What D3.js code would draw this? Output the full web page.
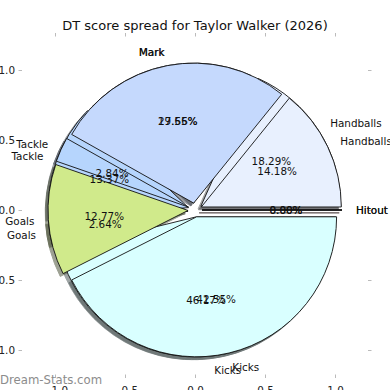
<!DOCTYPE html>
<html>
<head>
<meta charset="utf-8">
<script src="https://cdn.jsdelivr.net/npm/d3@7"></script>
<style>
body { margin: 0; background: #fff; }
svg { display: block; font-family: "DejaVu Sans", sans-serif; }
</style>
</head>
<body>
<div id="chart"></div>
<script>
// two seasons of the same split drawn on top of each other
const categories = ["Hitout", "Handballs", "Mark", "Tackle", "Goals", "Kicks"];
const colours = ["#ffd9d9", "#e8f0fe", "#c5d9fd", "#b6d5fd", "#d0ea8b", "#d9ffff"];
const spreadBack = [0, 18.29, 19.55, 13.37, 2.64, 46.17];
const spreadFront = [0, 14.18, 27.66, 2.84, 12.77, 42.55];
const axisTicks = [-1, -0.5, 0, 0.5, 1];

const width = 390, height = 390;
const explode = 0.05;

const svg = d3.select("#chart").append("svg")
    .attr("width", width)
    .attr("height", height);

var x = d3.scaleLinear().domain([-1, 1]).range([55, 335]);
var y = d3.scaleLinear().domain([-1, 1]).range([350, 70]);
const R = x(1) - x(0);
const cx = x(0), cy = y(0);

// axes frame (spines hidden, ticks on all four sides)
const frame = {left: 22, right: 368, top: 36.5, bottom: 374.5};
function styleAxis(g) {
    g.select(".domain").remove();
    g.selectAll("line").attr("stroke", "#bbb");
    g.selectAll("text").attr("fill", "#222").style("font-size", "10.4px").style("font-family", "DejaVu Sans");
}
svg.append("g").attr("transform", "translate(" + frame.left + ",0)")
    .call(d3.axisLeft(y).tickValues(axisTicks).tickSize(3.5).tickPadding(3.5).tickFormat(d3.format(".1f")))
    .call(styleAxis);
svg.append("g").attr("transform", "translate(0," + frame.bottom + ")")
    .call(d3.axisBottom(x).tickValues(axisTicks).tickSize(3.5).tickPadding(9).tickFormat(d3.format(".1f")))
    .call(styleAxis);
svg.append("g").attr("transform", "translate(" + frame.right + ",0)")
    .call(d3.axisRight(y).tickValues(axisTicks).tickSize(3.5).tickFormat(""))
    .call(styleAxis);
svg.append("g").attr("transform", "translate(0," + frame.top + ")")
    .call(d3.axisTop(x).tickValues(axisTicks).tickSize(3.5).tickFormat(""))
    .call(styleAxis);

// pie goes counter-clockwise from 3 o'clock
const pie = d3.pie().sort(null).value(d => d)
    .startAngle(Math.PI / 2).endAngle(Math.PI / 2 - 2 * Math.PI);
const arc = d3.arc().innerRadius(0).outerRadius(R);

function slices(values) {
    return pie(values).map((a, i) => {
        const mid = (a.startAngle + a.endAngle) / 2;
        return {
            arc: a, i: i, mid: mid,
            dx: explode * R * Math.sin(mid),
            dy: -explode * R * Math.cos(mid)
        };
    });
}
const back = slices(spreadBack);
const front = slices(spreadFront);

const shadowLayer = svg.append("g").attr("transform", "translate(" + cx + "," + cy + ")");
const wedgeLayer = svg.append("g").attr("transform", "translate(" + cx + "," + cy + ")");
const textLayer = svg.append("g").attr("transform", "translate(" + cx + "," + cy + ")");

function shade(c) {
    const r = d3.rgb(c);
    return d3.rgb(r.r * 0.3, r.g * 0.3, r.b * 0.3).formatHex();
}

[back, front].forEach(set => {
    shadowLayer.append("g").selectAll("path")
        .data(set)
        .enter()
        .append("path")
        .attr("d", d => arc(d.arc))
        .attr("transform", d => "translate(" + (d.dx - 0.02 * R) + "," + (d.dy + 0.02 * R) + ")")
        .attr("fill", d => shade(colours[d.i]))
        .attr("stroke", d => shade(colours[d.i]))
        .attr("opacity", 0.5);
});

[back, front].forEach(set => {
    wedgeLayer.append("g").selectAll("path")
        .data(set)
        .enter()
        .append("path")
        .attr("d", d => arc(d.arc))
        .attr("transform", d => "translate(" + d.dx + "," + d.dy + ")")
        .attr("fill", d => colours[d.i])
        .attr("stroke", "#111")
        .attr("stroke-width", 0.9)
        .attr("stroke-linejoin", "miter");
});

[back, front].forEach(set => {
    const g = textLayer.append("g").style("font-size", "10.4px").attr("fill", "#111");
    g.selectAll(".lbl")
        .data(set)
        .enter()
        .append("text")
        .attr("class", "lbl")
        .attr("x", d => d.dx + 1.1 * R * Math.sin(d.mid))
        .attr("y", d => d.dy - 1.1 * R * Math.cos(d.mid))
        .attr("dominant-baseline", "central")
        .attr("text-anchor", d => Math.sin(d.mid) > 0 ? "start" : "end")
        .text(d => categories[d.i]);
    g.selectAll(".pct")
        .data(set)
        .enter()
        .append("text")
        .attr("class", "pct")
        .attr("x", d => d.dx + 0.6 * R * Math.sin(d.mid))
        .attr("y", d => d.dy - 0.6 * R * Math.cos(d.mid))
        .attr("dominant-baseline", "central")
        .attr("text-anchor", "middle")
        .text(d => d3.format(".2f")(d.arc.data) + "%");
});

svg.append("text")
    .attr("x", width / 2)
    .attr("y", 30)
    .attr("text-anchor", "middle")
    .style("font-size", "13px")
    .attr("fill", "#111")
    .text("DT score spread for Taylor Walker (2026)");

svg.append("text")
    .attr("x", 0)
    .attr("y", 384)
    .style("font-size", "11.7px")
    .attr("fill", "#8c8c8c")
    .text("Dream-Stats.com");
</script>
</body>
</html>
